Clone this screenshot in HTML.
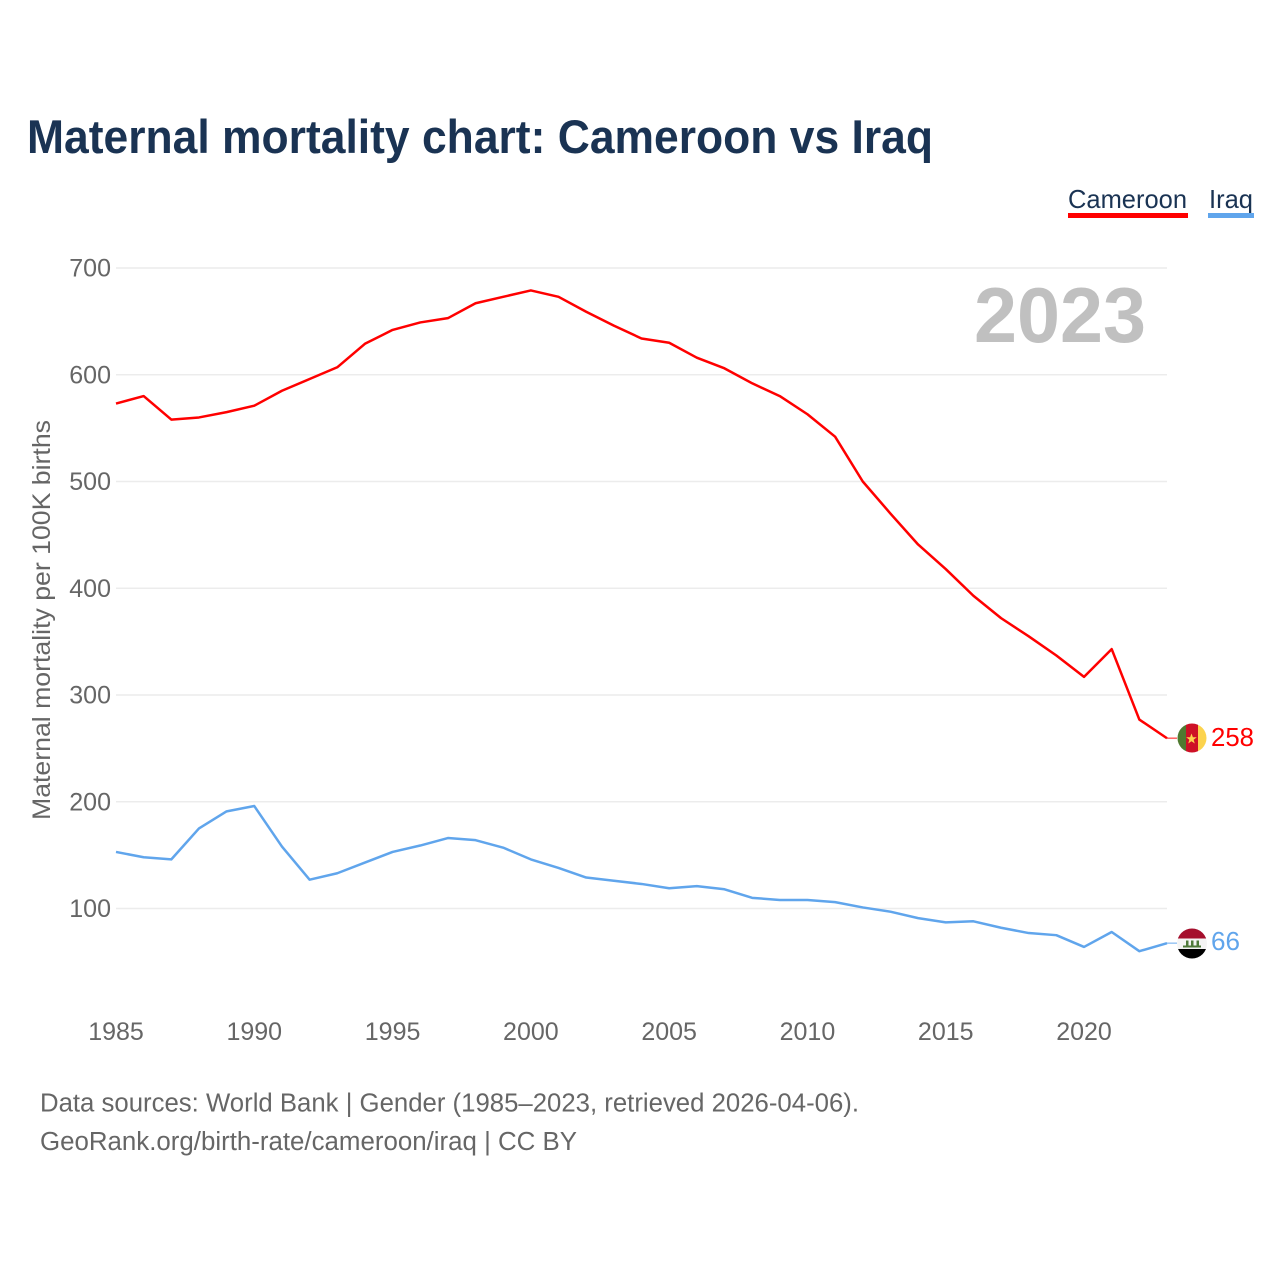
<!DOCTYPE html>
<html lang="en">
<head>
<meta charset="utf-8">
<title>Maternal mortality chart: Cameroon vs Iraq</title>
<style>
html,body{margin:0;padding:0;background:#fff;}
svg{display:block;font-family:"Liberation Sans",sans-serif;}
</style>
</head>
<body>
<svg id="chart" xmlns="http://www.w3.org/2000/svg" width="1280" height="1280" viewBox="0 0 1280 1280">
  <rect width="1280" height="1280" fill="#ffffff"/>
  <text x="27" y="153" font-size="47" font-weight="700" fill="#1a3353" textLength="906" lengthAdjust="spacingAndGlyphs">Maternal mortality chart: Cameroon vs Iraq</text>

  <g>
    <g>
      <text x="1068" y="208" font-size="26" fill="#1a3353" textLength="119" lengthAdjust="spacingAndGlyphs">Cameroon</text>
      <rect x="1068" y="213" width="120" height="5" fill="#ff0000"/>
    </g>
    <g>
      <text x="1209" y="208" font-size="26" fill="#1a3353" textLength="44" lengthAdjust="spacingAndGlyphs">Iraq</text>
      <rect x="1208" y="213" width="46" height="5" fill="#60a5ec"/>
    </g>
  </g>

  <text transform="translate(50,820) rotate(-90)" font-size="25" fill="#666666" textLength="400" lengthAdjust="spacingAndGlyphs">Maternal mortality per 100K births</text>

  <g id="grid"></g>
  <g id="yticks"></g>
  <g id="xticks"></g>

  <text x="1146" y="342" font-size="78" font-weight="700" fill="#c0c0c0" text-anchor="end" textLength="172" lengthAdjust="spacingAndGlyphs">2023</text>

  <g id="series"></g>

  <defs>
    <clipPath id="clip-cm"><circle cx="1192" cy="738" r="14.5"/></clipPath>
    <clipPath id="clip-iq"><circle cx="1192" cy="943.5" r="15"/></clipPath>
  </defs>

  <g clip-path="url(#clip-cm)">
    <rect x="1177" y="723" width="9" height="30" fill="#4f7a30"/>
    <rect x="1186" y="723" width="12" height="30" fill="#ce1126"/>
    <rect x="1198" y="723" width="9" height="30" fill="#fcd34d"/>
    <polygon points="1191.5,733.5 1192.9,737.3 1196.8,737.3 1193.6,739.7 1194.8,743.5 1191.5,741.2 1188.2,743.5 1189.4,739.7 1186.2,737.3 1190.1,737.3" fill="#fcd34d"/>
  </g>
  <g clip-path="url(#clip-iq)">
    <rect x="1177" y="928" width="30" height="10.5" fill="#a50f2d"/>
    <rect x="1177" y="938.5" width="30" height="10.5" fill="#f4f4f4"/>
    <rect x="1177" y="949" width="30" height="10.5" fill="#000000"/>
    <rect x="1183" y="945.5" width="18" height="2" fill="#4f7a3a"/>
    <rect x="1186" y="940.5" width="2.5" height="6.5" fill="#4f7a3a"/>
    <rect x="1191" y="940.5" width="2.5" height="6.5" fill="#4f7a3a"/>
    <rect x="1196.5" y="940.5" width="2.5" height="6.5" fill="#4f7a3a"/>
  </g>

  <text id="label-cm" x="1211" y="746" font-size="26" fill="#ff0000" textLength="43" lengthAdjust="spacingAndGlyphs"></text>
  <text id="label-iq" x="1211" y="950" font-size="26" fill="#60a5ec" textLength="29" lengthAdjust="spacingAndGlyphs"></text>

  <text x="40" y="1111.5" font-size="25.5" fill="#666666" textLength="819" lengthAdjust="spacingAndGlyphs">Data sources: World Bank | Gender (1985–2023, retrieved 2026-04-06).</text>
  <text x="40" y="1150" font-size="25.5" fill="#666666" textLength="537" lengthAdjust="spacingAndGlyphs">GeoRank.org/birth-rate/cameroon/iraq | CC BY</text>
</svg>

<script>
const years = [1985,1986,1987,1988,1989,1990,1991,1992,1993,1994,1995,1996,1997,1998,1999,2000,2001,2002,2003,2004,2005,2006,2007,2008,2009,2010,2011,2012,2013,2014,2015,2016,2017,2018,2019,2020,2021,2022,2023];
const cameroonValues = [573,580,558,560,565,571,585,596,607,629,642,649,653,667,673,679,673,659,646,634,630,616,606,592,580,563,542,500,470,441,418,393,372,355,337,317,343,277,259.5];
const iraqValues = [153,148,146,175,191,196,158,127,133,143,153,159,166,164,157,146,138,129,126,123,119,121,118,110,108,108,106,101,97,91,87,88,82,77,75,64,78,60,67.5];
const endLabels = [258, 66];
const yTickValues = [100,200,300,400,500,600,700];
const xTickValues = [1985,1990,1995,2000,2005,2010,2015,2020];

const NS = 'http://www.w3.org/2000/svg';
function xScale(year){ return 116 + (year - 1985) * (1167 - 116) / (2023 - 1985); }
function yScale(v){ return 908.5 - (v - 100) * (908.5 - 268) / 600; }

const grid = document.getElementById('grid');
const yticks = document.getElementById('yticks');
const xticks = document.getElementById('xticks');
const series = document.getElementById('series');

yTickValues.forEach(function(v){
  const line = document.createElementNS(NS,'line');
  
  
  line.setAttribute('x1', 116);
  line.setAttribute('x2', 1167);
  line.setAttribute('y1', yScale(v));
  line.setAttribute('y2', yScale(v));
  line.setAttribute('stroke', '#ececec');
  line.setAttribute('stroke-width', '1.5');
  grid.appendChild(line);

  const t = document.createElementNS(NS,'text');
  
  
  t.setAttribute('x', 111);
  t.setAttribute('y', yScale(v) + 8.5);
  t.setAttribute('text-anchor', 'end');
  t.setAttribute('font-size', '25');
  t.setAttribute('fill', '#666666');
  t.textContent = v;
  yticks.appendChild(t);
});

xTickValues.forEach(function(year){
  const t = document.createElementNS(NS,'text');
  
  
  t.setAttribute('x', xScale(year));
  t.setAttribute('y', 1040);
  t.setAttribute('text-anchor', 'middle');
  t.setAttribute('font-size', '25');
  t.setAttribute('fill', '#666666');
  t.textContent = year;
  xticks.appendChild(t);
});

function drawSeries(values, color, name){
  const pts = values.map(function(v,i){ return xScale(years[i]).toFixed(2) + ',' + yScale(v).toFixed(2); }).join(' ');
  const line = document.createElementNS(NS,'polyline');
  
  
  line.setAttribute('points', pts);
  line.setAttribute('fill', 'none');
  line.setAttribute('stroke', color);
  line.setAttribute('stroke-width', '2.5');
  line.setAttribute('stroke-linejoin', 'round');
  series.appendChild(line);

  const last = values[values.length - 1];
  const lead = document.createElementNS(NS,'line');
  
  
  lead.setAttribute('x1', xScale(2023));
  lead.setAttribute('x2', xScale(2023) + 10);
  lead.setAttribute('y1', yScale(last));
  lead.setAttribute('y2', yScale(last));
  lead.setAttribute('stroke', color);
  lead.setAttribute('stroke-opacity', '0.6');
  lead.setAttribute('stroke-width', '1.6');
  series.appendChild(lead);
}
drawSeries(cameroonValues, '#ff0000', 'cameroon');
drawSeries(iraqValues, '#60a5ec', 'iraq');

document.getElementById('label-cm').textContent = endLabels[0];
document.getElementById('label-iq').textContent = endLabels[1];
</script>
</body>
</html>
